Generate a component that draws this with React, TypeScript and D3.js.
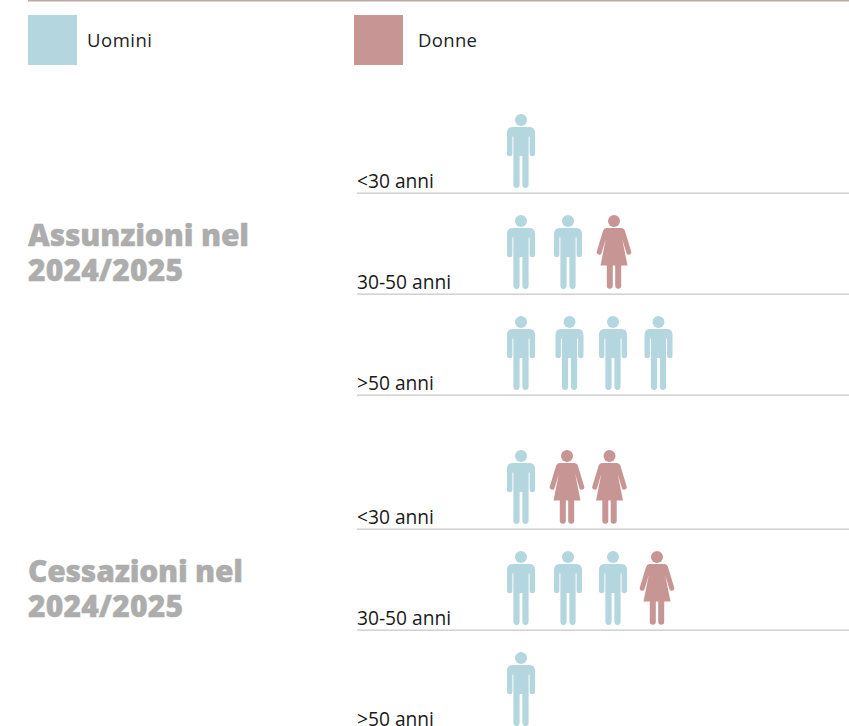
import React from "react";
import * as d3 from "d3";

const groups = ["Assunzioni nel 2024/2025", "Cessazioni nel 2024/2025"];
const groupTitleLines = [["Assunzioni nel", "2024/2025"], ["Cessazioni nel", "2024/2025"]];
const ages = ["<30 anni", "30-50 anni", ">50 anni"];
const genders = ["Uomini", "Donne"];

// One entry per person, in drawing order: U = uomo, D = donna
const assunzioni = [["U"], ["U", "U", "D"], ["U", "U", "U", "U"]];
const cessazioni = [["U", "D", "D"], ["U", "U", "U", "D"], ["U"]];
const series = [assunzioni, cessazioni];

const colour = d3.scaleOrdinal<string, string>().domain(["U", "D"]).range(["#b3d6df", "#c69594"]);
const groupY = d3.scalePoint<string>().domain(groups).range([114, 450]);
const rowY = d3.scalePoint<string>().domain(ages).range([0, 202]);
const slotX = d3.scaleLinear().domain([0, 3]).range([521, 659]);

// small optical offsets of the original layout, [group][row][slot]
const nudge = [
  [[0], [0, 1, 1], [0, 2.5, 0, -0.5]],
  [[0, 0, -3.5], [0, 1, 0, -2], [0]],
];
const titleWidths = [[221, 155], [215, 155]];

const MAN =
  "M-8.5,13 H8.5 Q14,13 14,19 V39.5 a2.7,2.7 0 0 1 -5.4,0 V22.5 H7.6 V70.8 a3.1,3.1 0 0 1 -6.2,0 V42 H-1.4 V70.8 a3.1,3.1 0 0 1 -6.2,0 V22.5 H-8.6 V39.5 a2.7,2.7 0 0 1 -5.4,0 V19 Q-14,13 -8.5,13 Z";
const WOMAN =
  "M-7,13 H7 Q10,13 11,16 L17.2,36.5 a2.5,2.5 0 0 1 -4.8,1.4 L8.2,24 L13.5,50.5 H7.2 V70.8 a3,3 0 0 1 -6,0 V50.5 H-1.2 V70.8 a3,3 0 0 1 -6,0 V50.5 H-13.5 L-8.2,24 L-12.4,37.9 a2.5,2.5 0 0 1 -4.8,-1.4 L-11,16 Q-10,13 -7,13 Z";

const font = "'Open Sans', sans-serif";

function Person({ kind, x, y }: { kind: string; x: number; y: number }) {
  return (
    <g transform={`translate(${x},${y})`} fill={colour(kind)}>
      <circle cx={0} cy={6} r={6} />
      <path d={kind === "U" ? MAN : WOMAN} />
    </g>
  );
}

export default function App() {
  return (
    <svg
      width={849}
      height={726}
      style={{ position: "absolute", left: 0, top: 0, background: "#fff" }}
      fontFamily={font}
    >
      <rect x={28} y={0} width={821} height={1.5} fill="#bcaaa5" />
      {genders.map((g, i) => {
        const x = i === 0 ? 28 : 354;
        return (
          <g key={g}>
            <rect x={x} y={15} width={49} height={50} fill={colour(i === 0 ? "U" : "D")} />
            <text x={i === 0 ? 87 : 418} y={47} fontSize={18.5} fill="#222" textLength={i === 0 ? 65 : 59}>
              {g}
            </text>
          </g>
        );
      })}
      {groups.map((g, gi) => {
        const top = groupY(g)!;
        return (
          <g key={g}>
            {groupTitleLines[gi].map((line, li) => (
              <text
                key={li}
                x={28}
                y={top + 131.5 + li * 35.5}
                fontSize={30}
                fontWeight={800}
                fill="#adadad"
                textLength={titleWidths[gi][li]}
                stroke="#adadad"
                strokeWidth={0.4}
              >
                {line}
              </text>
            ))}
            {ages.map((a, ai) => {
              const y = top + rowY(a)!;
              return (
                <g key={a}>
                  <text x={357} y={y + 73.6} fontSize={19.2} fill="#1a1a1a">
                    {a}
                  </text>
                  <rect x={357} y={y + 78.5} width={492} height={1.3} fill="#c9c9c9" />
                  {series[gi][ai].map((kind, si) => (
                    <Person key={si} kind={kind} x={slotX(si) + nudge[gi][ai][si]} y={y} />
                  ))}
                </g>
              );
            })}
          </g>
        );
      })}
    </svg>
  );
}
